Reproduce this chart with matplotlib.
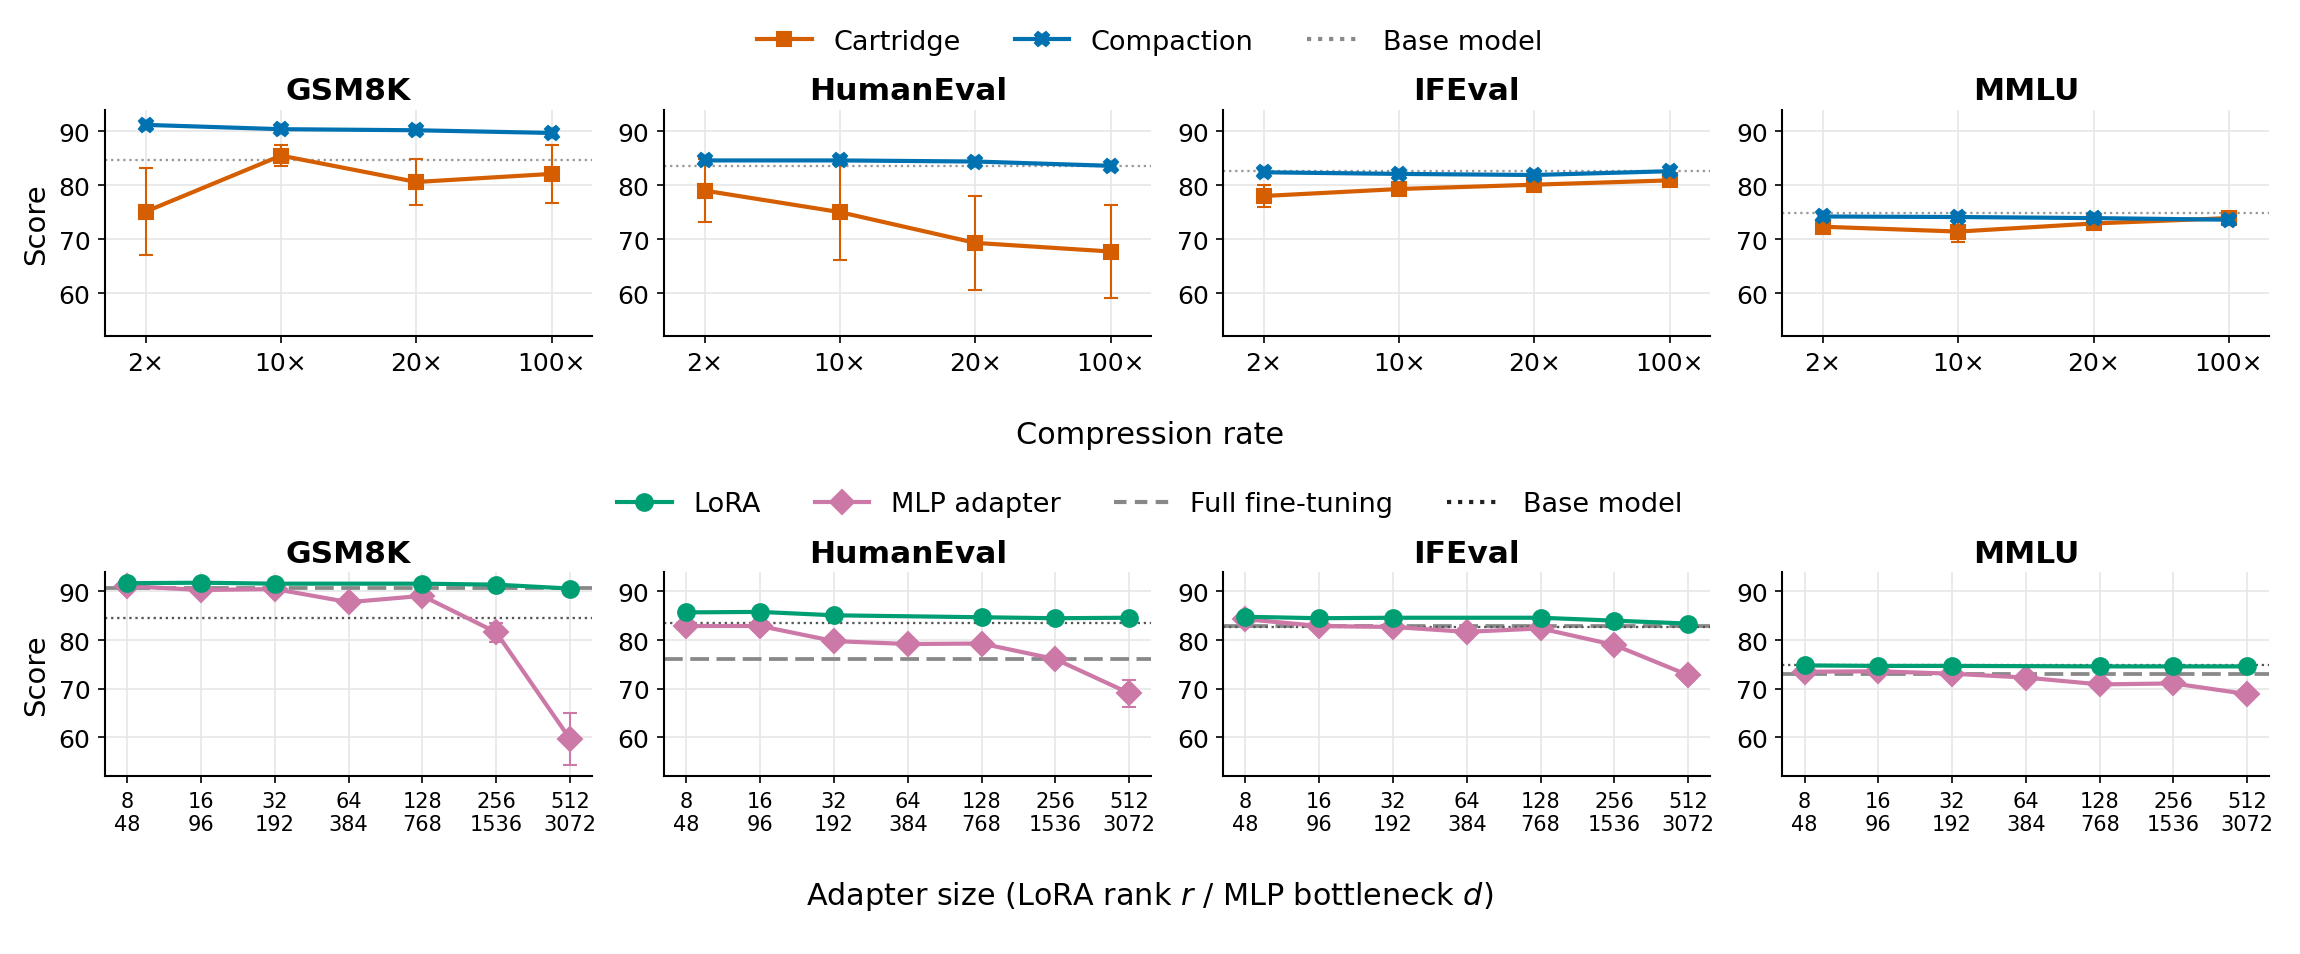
import numpy as np
import matplotlib
matplotlib.use("Agg")
import matplotlib.pyplot as plt
from matplotlib.lines import Line2D

BENCHMARKS = ["GSM8K", "HumanEval", "IFEval", "MMLU"]

# top row: compression rate sweep
RATES = ["2×", "10×", "20×", "100×"]
cartridge_mean = [[75.1, 85.5, 80.6, 82.1],
                  [79.0, 75.0, 69.3, 67.7],
                  [78.0, 79.3, 80.1, 80.9],
                  [72.3, 71.4, 72.9, 73.9]]
cartridge_err = [[8.1, 1.9, 4.2, 5.4],
                 [5.8, 8.8, 8.7, 8.6],
                 [2.1, 1.0, 0.8, 0.6],
                 [0.6, 1.9, 0.4, 0.4]]
compaction_mean = [[91.2, 90.4, 90.2, 89.7],
                   [84.6, 84.6, 84.4, 83.6],
                   [82.4, 82.1, 81.9, 82.6],
                   [74.2, 74.1, 73.9, 73.6]]
base_model = [84.6, 83.5, 82.7, 74.9]

# bottom row: adapter size sweep (LoRA has no rank-64 run)
LORA_RANKS = [8, 16, 32, 64, 128, 256, 512]
MLP_DIMS = [48, 96, 192, 384, 768, 1536, 3072]
nan = np.nan
lora_mean = [[91.7, 91.8, 91.6, nan, 91.6, 91.4, 90.6],
             [85.7, 85.8, 85.1, nan, 84.7, 84.5, 84.6],
             [84.8, 84.5, 84.6, nan, 84.6, 84.0, 83.4],
             [74.8, 74.7, 74.7, nan, 74.6, 74.6, 74.6]]
mlp_mean = [[91.1, 90.3, 90.5, 87.8, 89.1, 81.6, 59.7],
            [82.9, 82.9, 79.8, 79.2, 79.3, 76.1, 69.1],
            [84.3, 82.9, 82.7, 81.7, 82.4, 79.0, 72.8],
            [73.5, 73.6, 73.1, 72.3, 70.9, 71.1, 68.9]]
mlp_err = [[0.4, 0.5, 0.4, 0.6, 0.5, 2.0, 5.3],
           [0.5, 0.5, 0.6, 0.5, 0.5, 1.1, 2.8],
           [0.4, 0.5, 0.5, 0.6, 0.5, 0.8, 1.3],
           [0.3, 0.3, 0.4, 0.4, 0.5, 0.4, 0.5]]
full_ft = [90.8, 76.2, 82.8, 73.1]

C_CART, C_COMP = "#D55E00", "#0072B2"
C_LORA, C_MLP = "#009E73", "#CC79A7"
C_FT = "#888888"

plt.rcParams.update({"font.family": "DejaVu Sans", "axes.linewidth": 1.0})


def style(ax, n):
    ax.set_xlim(-0.3, n - 0.7)
    ax.set_ylim(52, 94)
    ax.set_yticks([60, 70, 80, 90])
    ax.grid(True, color="#e6e6e6", lw=0.8)
    ax.set_axisbelow(True)
    for s in ("top", "right"):
        ax.spines[s].set_visible(False)
    ax.tick_params(axis="y", labelsize=12)


fig = plt.figure(figsize=(2300 / 150, 955 / 150), dpi=150)
gs_top = fig.add_gridspec(1, 4, left=0.0457, right=0.9867, top=0.884, bottom=0.647, wspace=0.148)
gs_bot = fig.add_gridspec(1, 4, left=0.0457, right=0.9867, top=0.400, bottom=0.186, wspace=0.148)

for j, bench in enumerate(BENCHMARKS):
    ax = fig.add_subplot(gs_top[0, j])
    x = np.arange(len(RATES))
    ax.axhline(base_model[j], color="#999999", ls=":", lw=1.1, zorder=1)
    ax.errorbar(x, cartridge_mean[j], yerr=cartridge_err[j], color=C_CART, marker="s", ms=6.5,
                lw=2, elinewidth=1.0, capsize=3.5, zorder=3)
    ax.plot(x, compaction_mean[j], color=C_COMP, marker="X", ms=7, lw=2, zorder=4)
    style(ax, len(RATES))
    ax.set_xticks(x)
    ax.set_xticklabels(RATES, fontsize=12)
    ax.set_title(bench, fontsize=15, fontweight="bold", pad=5)
    if j == 0:
        ax.set_ylabel("Score", fontsize=14)

for j, bench in enumerate(BENCHMARKS):
    ax = fig.add_subplot(gs_bot[0, j])
    x = np.arange(len(LORA_RANKS))
    lm = np.array(lora_mean[j])
    ok = ~np.isnan(lm)
    ax.axhline(full_ft[j], color=C_FT, ls=(0, (5, 2)), lw=1.8, zorder=1)
    ax.axhline(base_model[j], color="#555555", ls=":", lw=1.1, zorder=1)
    ax.plot(x[ok], lm[ok], color=C_LORA, marker="o", ms=8, lw=2, zorder=4)
    ax.errorbar(x, mlp_mean[j], yerr=mlp_err[j], color=C_MLP, marker="D", ms=8,
                lw=2, elinewidth=1.0, capsize=3.5, zorder=3)
    style(ax, len(LORA_RANKS))
    ax.set_xticks(x)
    ax.set_xticklabels([f"{r}\n{d}" for r, d in zip(LORA_RANKS, MLP_DIMS)], fontsize=10)
    ax.set_title(bench, fontsize=15, fontweight="bold", pad=5)
    if j == 0:
        ax.set_ylabel("Score", fontsize=14)

top_handles = [Line2D([], [], color=C_CART, marker="s", ms=6.5, lw=2),
               Line2D([], [], color=C_COMP, marker="X", ms=7, lw=2),
               Line2D([], [], color="#888888", ls=":", lw=2)]
fig.legend(top_handles, ["Cartridge", "Compaction", "Base model"], loc="center",
           bbox_to_anchor=(0.5, 0.955), ncol=3, frameon=False, fontsize=13)

bot_handles = [Line2D([], [], color=C_LORA, marker="o", ms=8, lw=2),
               Line2D([], [], color=C_MLP, marker="D", ms=8, lw=2),
               Line2D([], [], color=C_FT, ls=(0, (3, 2)), lw=2),
               Line2D([], [], color="#222222", ls=":", lw=2)]
fig.legend(bot_handles, ["LoRA", "MLP adapter", "Full fine-tuning", "Base model"], loc="center",
           bbox_to_anchor=(0.5, 0.471), ncol=4, frameon=False, fontsize=13)

fig.text(0.5, 0.544, "Compression rate", ha="center", va="center", fontsize=14.5)
fig.text(0.5, 0.061, "Adapter size (LoRA rank $r$ / MLP bottleneck $d$)", ha="center", va="center", fontsize=14.5)

fig.savefig("out.png", dpi=150)
